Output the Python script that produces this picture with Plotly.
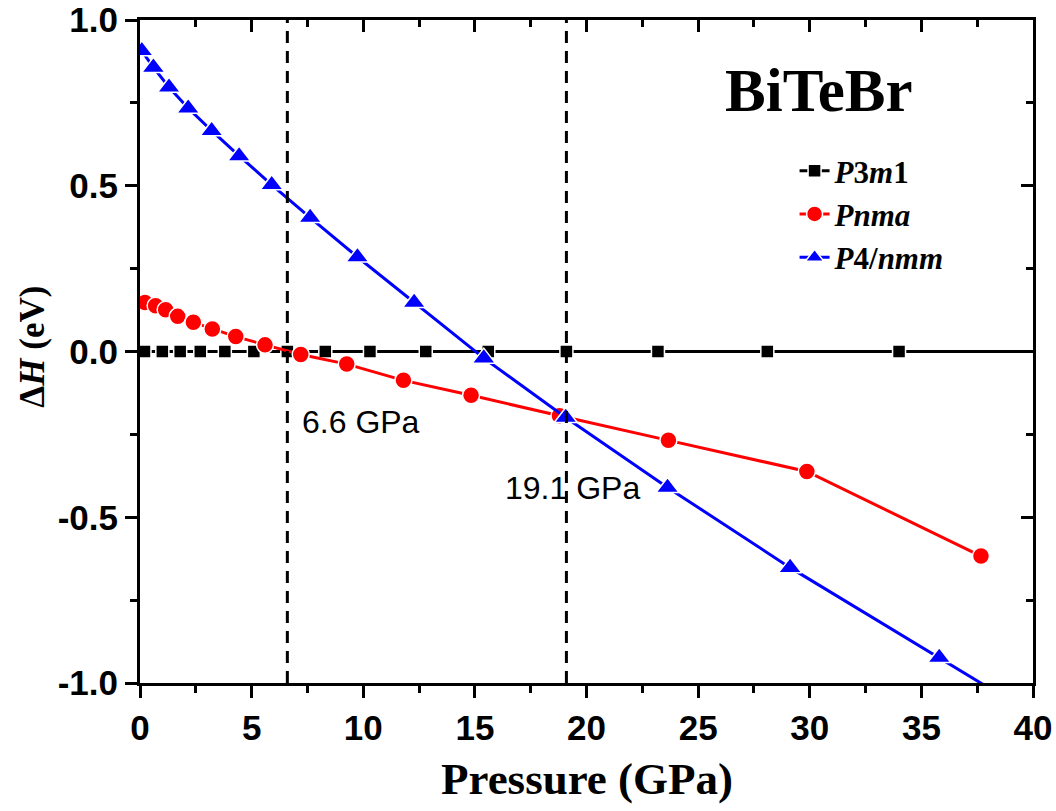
import plotly.graph_objects as go

# ---- data ----
p3m1_p = [0.2, 1.0, 1.8, 2.7, 3.8, 5.1, 6.6, 8.3, 10.3, 12.8, 15.6, 19.1, 23.2, 28.1, 34.0, 41.0]
p3m1_h = [0.0, 0.0, 0.0, 0.0, 0.0, 0.0, 0.0, 0.0, 0.0, 0.0, 0.0, 0.0, 0.0, 0.0, 0.0, 0.0]

pnma_p = [0.22, 0.70, 1.15, 1.69, 2.39, 3.24, 4.29, 5.60, 7.20, 9.26, 11.80, 14.83, 18.79, 23.67, 29.87, 37.67]
pnma_h = [0.148, 0.138, 0.126, 0.106, 0.088, 0.068, 0.045, 0.020, -0.009, -0.038, -0.087, -0.132, -0.194, -0.268, -0.362, -0.617]

p4nmm_p = [0.08, 0.60, 1.30, 2.16, 3.21, 4.44, 5.90, 7.62, 9.74, 12.28, 15.40, 19.07, 23.63, 29.12, 35.80, 39.5]
p4nmm_h = [0.907, 0.857, 0.797, 0.734, 0.666, 0.590, 0.503, 0.404, 0.285, 0.148, -0.020, -0.199, -0.410, -0.652, -0.923, -1.075]

transitions = [6.6, 19.1]
transition_labels = ["6.6 GPa", "19.1 GPa"]

x_range = [0, 40]
y_range = [-1.0, 1.0]
x_tickvals = [0, 5, 10, 15, 20, 25, 30, 35, 40]
y_tickvals = [-1.0, -0.5, 0.0, 0.5, 1.0]
y_ticktext = ["-1.0", "-0.5", "0.0", "0.5", "1.0"]

SERIF = "Liberation Serif"
SANS = "Liberation Sans"
LW = 3

fig = go.Figure()

fig.add_trace(go.Scatter(
    x=p3m1_p, y=p3m1_h, mode="lines+markers",
    name="<b><i>P</i>3<i>m</i>1</b>",
    line=dict(color="black", width=LW),
    marker=dict(symbol="square", size=13, color="black", line=dict(color="white", width=1.5)),
))
fig.add_trace(go.Scatter(
    x=pnma_p, y=pnma_h, mode="lines+markers",
    name="<b><i>Pnma</i></b>",
    line=dict(color="#ff0000", width=LW),
    marker=dict(symbol="circle", size=17, color="#ff0000", line=dict(color="white", width=1.5)),
))
fig.add_trace(go.Scatter(
    x=p4nmm_p, y=p4nmm_h, mode="lines+markers",
    name="<b><i>P</i>4/<i>nmm</i></b>",
    line=dict(color="#0000ff", width=LW),
    marker=dict(symbol="triangle-up", size=20, color="#0000ff", line=dict(color="white", width=1.5)),
))
# invisible trace to activate the mirrored (top/right) axes
fig.add_trace(go.Scatter(
    x=[x_range[0]], y=[y_range[0]], xaxis="x2", yaxis="y2", mode="markers",
    marker=dict(opacity=0), showlegend=False, hoverinfo="skip",
))

for xv in transitions:
    fig.add_shape(type="line", xref="x", yref="paper", x0=xv, x1=xv, y0=0, y1=1,
                  line=dict(color="black", width=LW, dash="12px,8px"), layer="above")

fig.add_annotation(x=transitions[0], y=-0.213, xref="x", yref="y", text=transition_labels[0],
                   showarrow=False, xanchor="left", yanchor="middle", xshift=13,
                   font=dict(family=SANS, size=32, color="black"))
fig.add_annotation(x=transitions[1], y=-0.412, xref="x", yref="y", text=transition_labels[1],
                   showarrow=False, xanchor="left", yanchor="middle", xshift=-63,
                   font=dict(family=SANS, size=32, color="black"))

fig.add_annotation(x=0.760, y=0.894, xref="paper", yref="paper", text="<b>BiTeBr</b>",
                   showarrow=False, xanchor="center", yanchor="middle",
                   font=dict(family=SERIF, size=61, color="black"))
fig.add_annotation(x=0.5, y=-0.145, xref="paper", yref="paper", text="<b>Pressure (GPa)</b>",
                   showarrow=False, xanchor="center", yanchor="middle",
                   font=dict(family=SERIF, size=45, color="black"))
fig.add_annotation(x=-0.12, y=0.507, xref="paper", yref="paper", text="<b>Δ<i>H</i> (eV)</b>",
                   showarrow=False, xanchor="center", yanchor="middle", textangle=-90,
                   font=dict(family=SERIF, size=35, color="black"))

tickfont = dict(family=SANS, size=35, color="black", weight="bold")

common = dict(showgrid=False, zeroline=False, automargin=False, tickcolor="black", tickwidth=LW)

fig.update_layout(
    width=1056, height=811,
    margin=dict(l=140, r=23, t=20, b=128),
    paper_bgcolor="white", plot_bgcolor="white",
    showlegend=True,
    legend=dict(x=0.733, y=0.813, xanchor="left", yanchor="top",
                bgcolor="rgba(0,0,0,0)", font=dict(family=SERIF, size=31, color="black"),
                tracegroupgap=0, itemsizing="trace"),
    xaxis=dict(range=x_range, tickvals=x_tickvals, ticks="outside", ticklen=12,
               showline=True, linecolor="black", linewidth=LW, mirror=True, tickfont=tickfont,
               minor=dict(dtick=2.5, ticks="outside", ticklen=7, tickwidth=LW, tickcolor="black",
                          showgrid=False), **common),
    yaxis=dict(range=y_range, tickvals=y_tickvals, ticktext=y_ticktext, ticks="outside", ticklen=12,
               showline=True, linecolor="black", linewidth=LW, mirror=True, tickfont=tickfont,
               minor=dict(dtick=0.25, ticks="outside", ticklen=7, tickwidth=LW, tickcolor="black",
                          showgrid=False), **common),
    xaxis2=dict(overlaying="x", matches="x", side="top", anchor="y", range=x_range, tickvals=x_tickvals,
                ticks="inside", ticklen=12, showticklabels=False, showline=False,
                minor=dict(dtick=2.5, ticks="inside", ticklen=7, tickwidth=LW, tickcolor="black",
                           showgrid=False), **common),
    yaxis2=dict(overlaying="y", matches="y", side="right", anchor="x", range=y_range, tickvals=y_tickvals,
                ticks="inside", ticklen=12, showticklabels=False, showline=False,
                minor=dict(dtick=0.25, ticks="inside", ticklen=7, tickwidth=LW, tickcolor="black",
                           showgrid=False), **common),
)

fig.write_html("out.html")
